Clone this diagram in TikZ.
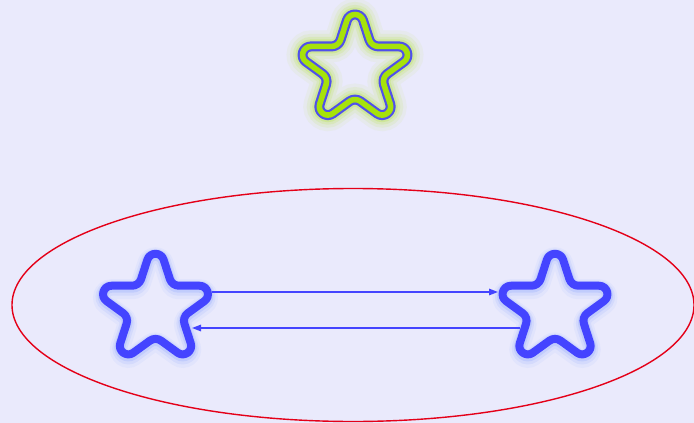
\documentclass[tikz,border=0pt]{standalone}
\usetikzlibrary{arrows.meta,calc,shapes.geometric}
\definecolor{bgc}{RGB}{234,234,252}
\definecolor{sblue}{RGB}{68,68,255}
\definecolor{oblue}{RGB}{80,80,235}
\definecolor{yg}{RGB}{166,226,10}
\definecolor{glowb}{RGB}{120,150,255}
\definecolor{ered}{RGB}{228,0,24}
\def\Rs{73.7}\def\rs{28.15}\def\dt{26.16pt}\def\di{6.9pt}\def\kt{0.3147}\def\ki{0.596}
\tikzset{
  pics/rstar/.style={code={
    \foreach \k in {0,...,4} {
      \coordinate (T\k) at ({-90+72*\k}:\Rs);
      \coordinate (I\k) at ({-54+72*\k}:\rs);
      \coordinate (A\k) at ($({-90+72*\k}:\Rs)!\dt!({-126+72*\k}:\rs)$);
      \coordinate (B\k) at ($({-90+72*\k}:\Rs)!\dt!({-54+72*\k}:\rs)$);
      \coordinate (C\k) at ($({-54+72*\k}:\rs)!\di!({-90+72*\k}:\Rs)$);
      \coordinate (D\k) at ($({-54+72*\k}:\rs)!\di!({-18+72*\k}:\Rs)$);
    }
    \path[#1] (B0) \foreach \k/\n in {0/1,1/2,2/3,3/4} {
        -- (C\k) .. controls ($(C\k)!\ki!(I\k)$) and ($(D\k)!\ki!(I\k)$) .. (D\k)
        -- (A\n) .. controls ($(A\n)!\kt!(T\n)$) and ($(B\n)!\kt!(T\n)$) .. (B\n) }
      -- (C4) .. controls ($(C4)!\ki!(I4)$) and ($(D4)!\ki!(I4)$) .. (D4)
      -- (A0) .. controls ($(A0)!\kt!(T0)$) and ($(B0)!\kt!(T0)$) .. cycle;
  }},
  bluestar/.style={draw=sblue, line width=8pt, line join=round,
    preaction={draw=glowb, line width=20pt, opacity=0.07, transform canvas={yshift=-3.5pt}},
    preaction={draw=glowb, line width=15pt, opacity=0.12, transform canvas={yshift=-2.5pt}},
    preaction={draw=glowb, line width=11pt, opacity=0.2, transform canvas={yshift=-1.5pt}}},
  greenstar/.style={draw=oblue, line width=2.2pt, double=yg, double distance=5.6pt, line join=round,
    preaction={draw=yg, line width=32pt, opacity=0.06},
    preaction={draw=yg, line width=25pt, opacity=0.09},
    preaction={draw=yg, line width=19pt, opacity=0.13},
    preaction={draw=yg, line width=14pt, opacity=0.2}},
  groupell/.style={shape=ellipse, draw=ered, line width=1.4pt, minimum width=682pt,
    minimum height=233pt, inner sep=0pt},
  arr/.style={draw=sblue, line width=1.5pt, -{Triangle[length=9pt,width=6.5pt]}}
}
\begin{document}
\begin{tikzpicture}[x=1pt,y=-1pt]
\fill[bgc] (0,0) rectangle (694,423);
\useasboundingbox (0,0) rectangle (694,423);
\node[groupell] (grp) at (353,305) {};
\coordinate (top) at (355,69.2);
\coordinate (ls) at (155.5,308.5);
\coordinate (rs) at (555,308.5);
\pic at (top) {rstar=greenstar};
\pic at (ls) {rstar=bluestar};
\pic at (rs) {rstar=bluestar};
\coordinate (a1s) at ($(ls)+(56,-16.5)$);
\coordinate (a1e) at ($(rs)+(-57,-16.5)$);
\coordinate (a2s) at ($(rs)+(-35,19.5)$);
\coordinate (a2e) at ($(ls)+(36.5,19.5)$);
\draw[arr] (a1s) -- (a1e);
\draw[arr] (a2s) -- (a2e);
\end{tikzpicture}
\end{document}
